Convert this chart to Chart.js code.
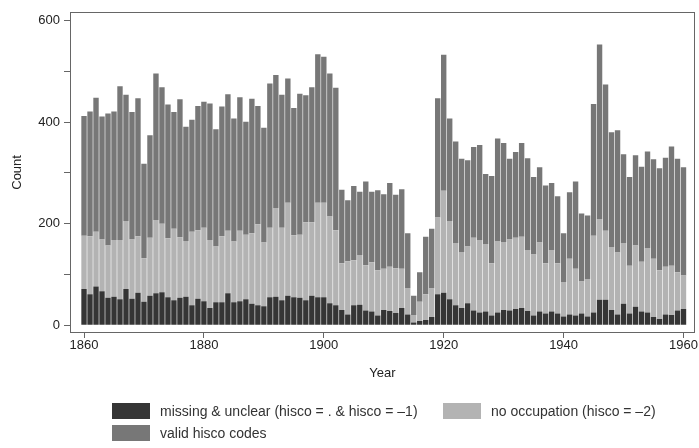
<!DOCTYPE html>
<html>
<head>
<meta charset="utf-8">
<script src="https://cdn.jsdelivr.net/npm/chart.js@4/dist/chart.umd.min.js"></script>
<style>
  html, body { margin: 0; padding: 0; background: #fff; }
  #wrap { position: relative; width: 699px; height: 448px; }
  #legend { position: absolute; left: 0; top: 0; width: 699px; height: 448px; pointer-events: none;
            font-family: "Liberation Sans", Arial, sans-serif; font-size: 14px; color: #333; }
  .item { position: absolute; display: flex; align-items: center; height: 16px; white-space: nowrap; }
  .sw { width: 38px; height: 16px; margin-right: 10px; }
</style>
</head>
<body>
<div id="wrap">
  <canvas id="c" width="699" height="448"></canvas>
  <div id="legend"></div>
</div>
<script>
const years = [1860,1861,1862,1863,1864,1865,1866,1867,1868,1869,
  1870,1871,1872,1873,1874,1875,1876,1877,1878,1879,
  1880,1881,1882,1883,1884,1885,1886,1887,1888,1889,
  1890,1891,1892,1893,1894,1895,1896,1897,1898,1899,
  1900,1901,1902,1903,1904,1905,1906,1907,1908,1909,
  1910,1911,1912,1913,1914,1915,1916,1917,1918,1919,
  1920,1921,1922,1923,1924,1925,1926,1927,1928,1929,
  1930,1931,1932,1933,1934,1935,1936,1937,1938,1939,
  1940,1941,1942,1943,1944,1945,1946,1947,1948,1949,
  1950,1951,1952,1953,1954,1955,1956,1957,1958,1959,1960];

const missingUnclear = [71,61,76,67,54,56,51,71,52,64,
  46,58,63,65,55,49,54,56,39,52,
  47,34,45,45,63,45,47,51,42,39,
  37,55,56,49,58,55,54,49,58,55,
  55,43,39,30,21,39,40,29,27,19,
  30,28,24,34,21,5,8,10,16,61,
  64,51,39,34,43,29,25,27,19,25,
  30,29,32,34,28,19,27,23,27,23,
  17,21,19,23,17,25,50,50,30,21,
  42,23,36,27,25,16,12,21,20,29,32];

const noOccupation = [105,114,108,102,103,112,117,134,117,111,
  86,114,144,135,116,141,119,110,145,135,
  145,134,110,130,123,120,139,127,139,160,
  126,137,175,143,183,122,124,154,145,186,
  186,171,148,92,105,89,98,89,97,89,
  81,87,88,77,52,15,38,51,56,151,
  201,154,123,110,112,143,143,133,103,141,
  134,140,140,140,120,120,136,99,121,99,
  68,110,92,63,74,151,159,136,124,122,
  120,94,121,98,127,115,96,94,97,75,66];

const validHisco = [236,246,264,242,260,253,303,249,251,272,
  186,202,289,269,264,230,272,225,221,245,
  248,269,231,256,269,242,263,223,265,233,
  226,284,262,262,245,251,278,250,266,293,
  288,282,281,145,120,146,125,165,139,158,
  147,165,145,157,108,38,58,113,118,235,
  268,202,200,184,170,179,187,138,172,202,
  195,159,169,185,181,153,148,153,132,132,
  96,131,172,134,125,260,344,288,226,241,
  175,175,178,187,190,196,201,215,235,224,213];

const xTickValues = [1860, 1880, 1900, 1920, 1940, 1960];
const yTickValues = [0, 100, 200, 300, 400, 500, 600];
const yLabelValues = [0, 200, 400, 600];

const seriesLabels = [
  'missing & unclear (hisco = . & hisco = \u20131)',
  'no occupation (hisco = \u20132)',
  'valid hisco codes'
];
const seriesColors = ['#353535', '#b3b3b3', '#777777'];

const FONT = '"Liberation Sans", Arial, sans-serif';
const AXIS_COLOR = '#666666';

const framePlugin = {
  id: 'frame',
  afterDraw(chart) {
    const a = chart.chartArea, ctx = chart.ctx;
    ctx.save();
    ctx.strokeStyle = AXIS_COLOR;
    ctx.lineWidth = 1;
    const l = Math.round(a.left) + 0.5, r = Math.round(a.right) - 0.5;
    const t = Math.round(a.top) + 0.5, b = Math.round(a.bottom) - 0.5;
    ctx.strokeRect(l, t, r - l, b - t);
    ctx.restore();
  }
};

const chart = new Chart(document.getElementById('c'), {
  type: 'bar',
  data: {
    labels: years,
    datasets: [
      { label: seriesLabels[0], data: missingUnclear, backgroundColor: seriesColors[0] },
      { label: seriesLabels[1], data: noOccupation, backgroundColor: seriesColors[1] },
      { label: seriesLabels[2], data: validHisco, backgroundColor: seriesColors[2] }
    ]
  },
  options: {
    responsive: false,
    animation: false,
    devicePixelRatio: 1,
    layout: { padding: { left: 0, right: 4, top: 7, bottom: 67 } },
    datasets: { bar: { barPercentage: 0.9, categoryPercentage: 1.0, borderWidth: 0 } },
    plugins: { legend: { display: false }, tooltip: { enabled: false } },
    scales: {
      x: {
        type: 'linear',
        stacked: true,
        offset: false,
        min: 1857.66,
        max: 1961.92,
        afterBuildTicks: (s) => { s.ticks = xTickValues.map(v => ({ value: v })); },
        afterFit: (s) => { s.height = 48; },
        border: { display: false },
        grid: { offset: false, drawOnChartArea: false, drawTicks: true, tickLength: 5, color: AXIS_COLOR },
        ticks: { color: '#222', font: { family: FONT, size: 13 }, padding: 0, maxRotation: 0, autoSkip: false,
                 callback: (v) => String(v) },
        title: { display: true, text: 'Year', color: '#222', font: { family: FONT, size: 13 }, padding: { top: 0, bottom: 0 } }
      },
      y: {
        stacked: true,
        min: -15.5,
        max: 617.5,
        afterBuildTicks: (s) => { s.ticks = yTickValues.map(v => ({ value: v })); },
        afterFit: (s) => { s.width = 70; },
        border: { display: false },
        grid: { drawOnChartArea: false, drawTicks: true, tickLength: 6, color: AXIS_COLOR },
        ticks: { color: '#222', font: { family: FONT, size: 13 }, padding: 4, autoSkip: false,
                 callback: (v) => yLabelValues.includes(v) ? String(v) : '' },
        title: { display: true, text: 'Count', color: '#222', font: { family: FONT, size: 13 }, padding: { top: 10, bottom: 0 } }
      }
    }
  },
  plugins: [framePlugin]
});

// HTML legend built from the chart's datasets
const legendPos = [
  { left: 112, top: 403 },
  { left: 443, top: 403 },
  { left: 112, top: 425 }
];
const legendEl = document.getElementById('legend');
chart.data.datasets.forEach((ds, i) => {
  const item = document.createElement('div');
  item.className = 'item';
  item.style.left = legendPos[i].left + 'px';
  item.style.top = legendPos[i].top + 'px';
  const sw = document.createElement('span');
  sw.className = 'sw';
  sw.style.background = ds.backgroundColor;
  const tx = document.createElement('span');
  tx.textContent = ds.label;
  item.appendChild(sw);
  item.appendChild(tx);
  legendEl.appendChild(item);
});
</script>
</body>
</html>
